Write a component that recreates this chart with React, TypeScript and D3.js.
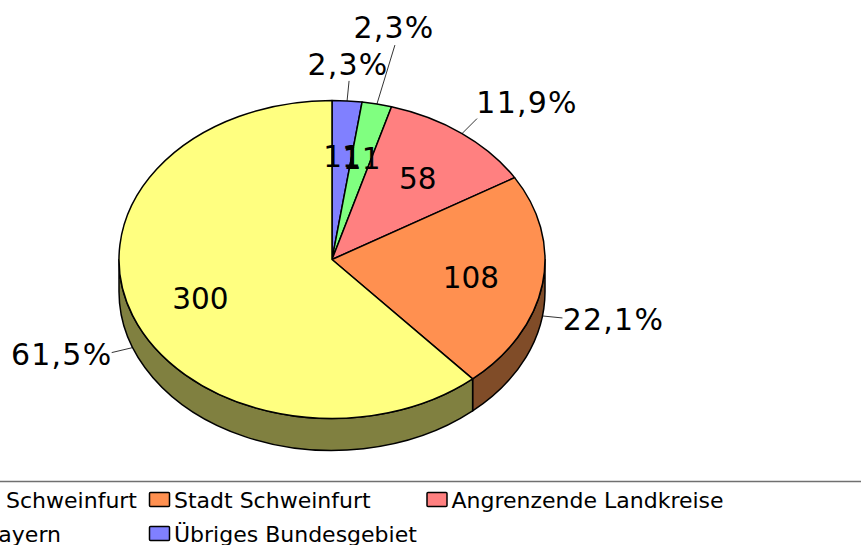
import React from "react";
import * as d3 from "d3";

const categories = ["Übriges Bundesgebiet", "Bayern", "Angrenzende Landkreise", "Stadt Schweinfurt", "Landkreis Schweinfurt"];
const values = [11, 11, 58, 108, 300];
const percentLabels = ["2,3%", "2,3%", "11,9%", "22,1%", "61,5%"];
const topColors = ["#8080FF", "#80FF80", "#FF8080", "#FF9050", "#FFFF80"];
const sideColors = ["#404080", "#408040", "#804040", "#804C28", "#808040"];
// leader end and label centre, relative to the outer anchor of each slice
const leaderEnds = [[2, -20], [18, -59], [15, -15], [20, 2], [-21, 5]];
const labelCentres = [[1, -37], [17, -77], [65, -31], [71, 3], [-71, 7]];
const legendOrder = [4, 3, 2, 1, 0];

const W = 861, H = 545;
const cx = 332, cy = 259.5, rx = 213, ry = 159, depth = 32;
const FONT = "'DejaVu Sans', Verdana, sans-serif";

const pt = (a: number, k = 1, dy = 0): [number, number] => [cx + k * rx * Math.sin(a), cy - k * ry * Math.cos(a) + dy];

const pie = d3.pie<number>().sort(null).startAngle(0).endAngle(2 * Math.PI);
const arcs = pie(values);

const slicePath = (a0: number, a1: number) => {
  const p0 = pt(a0), p1 = pt(a1);
  return `M${cx},${cy}L${p0[0]},${p0[1]}A${rx},${ry} 0 ${a1 - a0 > Math.PI ? 1 : 0} 1 ${p1[0]},${p1[1]}Z`;
};
const wallPath = (a0: number, a1: number) => {
  const s = Math.max(a0, Math.PI / 2), e = Math.min(a1, (3 * Math.PI) / 2);
  if (e <= s) return null;
  const p0 = pt(s), p1 = pt(e), q1 = pt(e, 1, depth), q0 = pt(s, 1, depth);
  return `M${p0[0]},${p0[1]}A${rx},${ry} 0 0 1 ${p1[0]},${p1[1]}L${q1[0]},${q1[1]}A${rx},${ry} 0 0 0 ${q0[0]},${q0[1]}Z`;
};

const legendCols = [137, 149.5, 427];

export default function App() {
  return (
    <svg width={W} height={H} viewBox={`0 0 ${W} ${H}`} style={{ position: "fixed", left: 0, top: 0, background: "#fff" }} fontFamily={FONT}>
      {arcs.map((d, i) => {
        const w = wallPath(d.startAngle, d.endAngle);
        return w ? <path key={i} d={w} fill={sideColors[i]} stroke="#000" strokeWidth={1.5} strokeLinejoin="round" /> : null;
      })}
      {arcs.map((d, i) => (
        <path key={i} d={slicePath(d.startAngle, d.endAngle)} fill={topColors[i]} stroke="#000" strokeWidth={1.5} strokeLinejoin="round" />
      ))}
      {arcs.map((d, i) => {
        const mid = (d.startAngle + d.endAngle) / 2;
        const front = Math.cos(mid) < 0;
        const a = pt(mid, 1, front ? depth : 0);
        const inner = pt(mid, 0.66, 1.5);
        return (
          <g key={i}>
            <line x1={a[0]} y1={a[1]} x2={a[0] + leaderEnds[i][0]} y2={a[1] + leaderEnds[i][1]} stroke="#000" strokeWidth={0.8} />
            <text x={inner[0]} y={inner[1]} dy="0.36em" fontSize={29.5} textAnchor="middle" fill="#000">{d.data}</text>
            <text x={a[0] + labelCentres[i][0]} y={a[1] + labelCentres[i][1]} dy="0.36em" fontSize={30} letterSpacing={1.2} textAnchor="middle" fill="#000">{percentLabels[i]}</text>
          </g>
        );
      })}
      <line x1={0} x2={W} y1={481.5} y2={481.5} stroke="#707070" strokeWidth={1.5} />
      {legendOrder.map((idx, k) => {
        const col = k % 3, row = Math.floor(k / 3);
        const y = 500 + row * 34;
        if (col === 0) {
          return <text key={idx} x={idx === 4 ? legendCols[0] : 61} y={y} dy="0.36em" fontSize={22} textAnchor="end">{categories[idx]}</text>;
        }
        const x = legendCols[col];
        return (
          <g key={idx}>
            <rect x={x} y={y - 7.5} width={20} height={14} rx={1} fill={topColors[idx]} stroke="#000" strokeWidth={1.5} />
            <text x={x + 24.5} y={y} dy="0.36em" fontSize={22}>{categories[idx]}</text>
          </g>
        );
      })}
    </svg>
  );
}
